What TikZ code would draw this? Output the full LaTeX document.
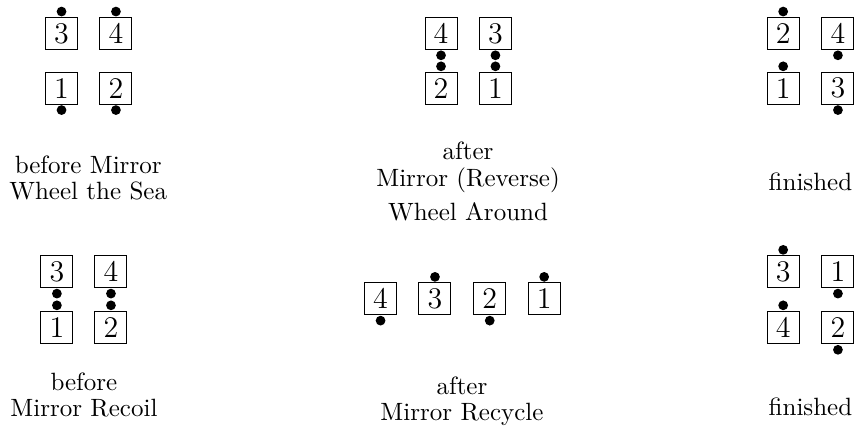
\documentclass[tikz,border=0pt]{standalone}
\usepackage{tikz}

\begin{document}
\begin{tikzpicture}[
    dancer/.style={draw, minimum size=12.8pt, inner sep=0pt, font=\large},
    dot/.style={circle, fill, inner sep=0pt, minimum size=3.9pt},
    up/.style={label={[dot]above:{}}},
    down/.style={label={[dot]below:{}}},
    caption/.style={align=center, font=\fontsize{10}{10.6}\selectfont}]
  \useasboundingbox (0,0) rectangle (12.02,-6.07);
  \node[dancer, up]   (a3) at (0.865,-0.47) {3};
  \node[dancer, up]   (a4) at (1.63,-0.47) {4};
  \node[dancer, down] (a1) at (0.865,-1.24) {1};
  \node[dancer, down] (a2) at (1.63,-1.24) {2};
  \node[caption] (ta) at (1.24,-2.50) {before Mirror\\Wheel the Sea};

  \node[dancer, down] (b4) at (6.20,-0.47) {4};
  \node[dancer, down] (b3) at (6.965,-0.47) {3};
  \node[dancer, up]   (b2) at (6.20,-1.24) {2};
  \node[dancer, up]   (b1) at (6.965,-1.24) {1};
  \node[caption] (tb) at (6.58,-2.55) {after\\Mirror (Reverse)\\[3pt]Wheel Around};

  \node[dancer, up]   (c2) at (11.01,-0.47) {2};
  \node[dancer, down] (c4) at (11.78,-0.47) {4};
  \node[dancer, up]   (c1) at (11.01,-1.24) {1};
  \node[dancer, down] (c3) at (11.78,-1.24) {3};
  \node[caption] (tc) at (11.394,-2.56) {finished};

  \node[dancer, down] (d3) at (0.80,-3.82) {3};
  \node[dancer, down] (d4) at (1.56,-3.82) {4};
  \node[dancer, up]   (d1) at (0.80,-4.60) {1};
  \node[dancer, up]   (d2) at (1.56,-4.60) {2};
  \node[caption] (td) at (1.18,-5.55) {before\\Mirror Recoil};

  \node[dancer, down] (e4) at (5.35,-4.20) {4};
  \node[dancer, up]   (e3) at (6.115,-4.20) {3};
  \node[dancer, down] (e2) at (6.885,-4.20) {2};
  \node[dancer, up]   (e1) at (7.65,-4.20) {1};
  \node[caption] (te) at (6.495,-5.64) {after\\Mirror Recycle};

  \node[dancer, up]   (f3) at (11.01,-3.82) {3};
  \node[dancer, down] (f1) at (11.78,-3.82) {1};
  \node[dancer, up]   (f4) at (11.01,-4.60) {4};
  \node[dancer, down] (f2) at (11.78,-4.61) {2};
  \node[caption] (tf) at (11.394,-5.72) {finished};
\end{tikzpicture}
\end{document}
